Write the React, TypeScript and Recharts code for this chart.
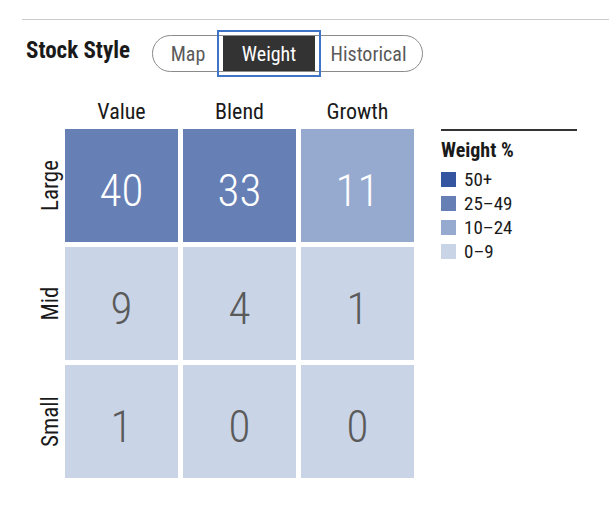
import React from 'react';
import { ScatterChart, Scatter, XAxis, YAxis, Legend } from 'recharts';

// --- data ---
const STYLES = ['Value', 'Blend', 'Growth'];
const SIZES = ['Large', 'Mid', 'Small'];
const WEIGHTS = [
    [40, 33, 11],
    [9, 4, 1],
    [1, 0, 0],
];
const BIN_LABELS = ['50+', '25\u201349', '10\u201324', '0\u20139'];
const BIN_MINS = [50, 25, 10, 0];
const BIN_COLORS = ['#3655a0', '#6680b6', '#96a9cf', '#c9d4e6'];
const TOGGLES = ['Map', 'Weight', 'Historical'];
const ACTIVE_TOGGLE = 'Weight';

const FONT = "'Liberation Sans Narrow', 'Roboto Condensed', 'DejaVu Sans Condensed', sans-serif";

const W = 609;
const H = 505;
const MARGIN = { top: 90, right: 192.5, bottom: 24.5, left: 22 };
const X_AXIS_H = 36.5;
const Y_AXIS_W = 40.5;
const PLOT_W = W - MARGIN.left - MARGIN.right - Y_AXIS_W;
const GAP = 5;
const CELL = PLOT_W / STYLES.length - GAP;

const binIndex = (v: number) => BIN_MINS.findIndex(m => v >= m);

const cells = SIZES.flatMap((size, r) =>
    STYLES.map((style, c) => ({ x: c + 0.5, y: r + 0.5, value: WEIGHTS[r][c], style, size }))
);
const centers = STYLES.map((_, i) => i + 0.5);

const CellShape = (props: any) => {
    const { cx, cy, payload } = props;
    const b = binIndex(payload.value);
    const light = b === BIN_MINS.length - 1;
    return (
        <g>
            <rect x={cx - CELL / 2} y={cy - CELL / 2} width={CELL} height={CELL} fill={BIN_COLORS[b]} />
            <text x={cx} y={cy + 20} textAnchor="middle" fontFamily={FONT} fontSize={45} fontWeight={300}
                fill={light ? '#5a5a5a' : '#ffffff'}>
                {payload.value}
            </text>
        </g>
    );
};

const XTick = (props: any) => {
    const { x, y, payload } = props;
    return (
        <text x={x} y={y} textAnchor="middle" fontFamily={FONT} fontSize={22} fill="#1a1a1a">
            {STYLES[Math.floor(payload.value)]}
        </text>
    );
};

const YTick = (props: any) => {
    const { x, y, payload } = props;
    const tx = x + 3;
    return (
        <text x={tx} y={y} transform={`rotate(-90, ${tx}, ${y})`} textAnchor="middle"
            fontFamily={FONT} fontSize={23} fill="#1a1a1a">
            {SIZES[Math.floor(payload.value)]}
        </text>
    );
};

const WeightLegend = () => (
    <div style={{ fontFamily: FONT, color: '#1a1a1a' }}>
        <div style={{ borderTop: '2px solid #333', width: 136, height: 0 }} />
        <div style={{ fontWeight: 'bold', fontSize: 20, marginTop: 8, lineHeight: '22px' }}>Weight %</div>
        <div style={{ marginTop: 6 }}>
            {BIN_LABELS.map((label, i) => (
                <div key={label} style={{ display: 'flex', alignItems: 'center', height: 24 }}>
                    <span style={{ display: 'inline-block', width: 15, height: 15, background: BIN_COLORS[i], marginRight: 8 }} />
                    <span style={{ fontSize: 19 }}>{label}</span>
                </div>
            ))}
        </div>
    </div>
);

const Header = () => (
    <>
        <div style={{ position: 'absolute', left: 22, top: 19, width: W - 22, borderTop: '1px solid #cccccc' }} />
        <div style={{ position: 'absolute', left: 26, top: 37, fontFamily: FONT, fontWeight: 'bold', fontSize: 23, color: '#1a1a1a' }}>
            Stock Style
        </div>
        <div style={{
            position: 'absolute', left: 152, top: 35, width: 271, height: 37, boxSizing: 'border-box',
            border: '1px solid #8a8a8a', borderRadius: 19, display: 'flex', overflow: 'visible',
        }}>
            {TOGGLES.map(t => {
                const active = t === ACTIVE_TOGGLE;
                return (
                    <div key={t} style={{
                        position: 'relative',
                        width: t === 'Map' ? 70 : t === 'Weight' ? 92 : 107,
                        display: 'flex', alignItems: 'center', justifyContent: 'center',
                        fontFamily: FONT, fontSize: 20,
                        background: active ? '#333333' : 'transparent',
                        color: active ? '#ffffff' : '#5a5a5a',
                        outline: active ? '2.5px solid #3f74c6' : 'none',
                        outlineOffset: active ? 4 : 0,
                    }}>
                        {t}
                    </div>
                );
            })}
        </div>
    </>
);

export default function App() {
    return (
        <div style={{ position: 'absolute', left: 0, top: 0, width: W, height: H, background: '#fff' }}>
            <Header />
            <ScatterChart width={W} height={H} margin={MARGIN}>
                <XAxis type="number" dataKey="x" orientation="top" domain={[0, 3]} ticks={centers}
                    height={X_AXIS_H} axisLine={false} tickLine={false} tick={<XTick />} interval={0} />
                <YAxis type="number" dataKey="y" domain={[0, 3]} reversed ticks={centers}
                    width={Y_AXIS_W} axisLine={false} tickLine={false} tick={<YTick />} interval={0} />
                <Legend layout="vertical" align="center" verticalAlign="middle" content={<WeightLegend />}
                    wrapperStyle={{ left: 441, top: 129, width: 140 }} />
                <Scatter data={cells} shape={<CellShape />} isAnimationActive={false} />
            </ScatterChart>
        </div>
    );
}
